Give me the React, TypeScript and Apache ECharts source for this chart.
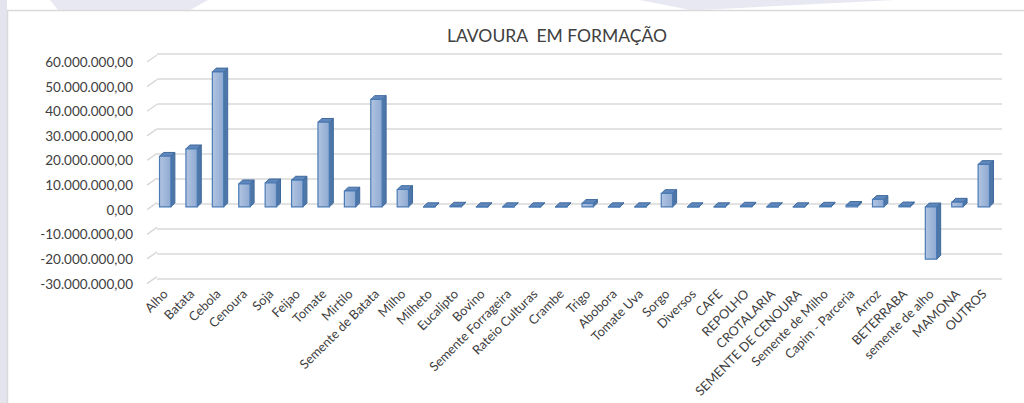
import React, { useEffect, useRef } from "react";
import * as echarts from "echarts";

const titleText = "LAVOURA  EM FORMAÇÃO";

const categories = [
  "Alho", "Batata", "Cebola", "Cenoura", "Soja", "Feijao", "Tomate", "Mirtilo",
  "Semente de Batata", "Milho", "Milheto", "Eucalipto", "Bovino", "Semente Forrageira",
  "Rateio Culturas", "Crambe", "Trigo", "Abobora", "Tomate Uva", "Sorgo", "Diversos",
  "CAFE", "REPOLHO", "CROTALARIA", "SEMENTE DE CENOURA", "Semente de Milho",
  "Capim - Parceria", "Arroz", "BETERRABA", "semente de alho", "MAMONA", "OUTROS",
];

const values = [
  20400000, 23400000, 54400000, 9300000, 9700000, 10800000, 34100000, 6400000,
  43300000, 7000000, 100000, 300000, 100000, 100000,
  100000, 100000, 1400000, 100000, 100000, 5400000, 100000,
  100000, 300000, 100000, 100000, 300000,
  600000, 3000000, 400000, -21100000, 1900000, 17100000,
];

const yMin = -30000000;
const yMax = 60000000;
const yStep = 10000000;
const yTicks = [-30000000, -20000000, -10000000, 0, 10000000, 20000000, 30000000, 40000000, 50000000, 60000000];

function fmtBR(v: number): string {
  const neg = v < 0;
  const s = Math.abs(Math.round(v)).toString().replace(/\B(?=(\d{3})+(?!\d))/g, ".");
  return (neg ? "-" : "") + s + ",00";
}

export default function App() {
  const ref = useRef<HTMLDivElement>(null);

  useEffect(() => {
    const chart = echarts.init(ref.current!, null, { renderer: "svg" });

    const frontFill = new echarts.graphic.LinearGradient(0, 0, 1, 0, [
      { offset: 0, color: "#b2c5e1" },
      { offset: 1, color: "#8ea9d1" },
    ]);

    const yAxisBase = { type: "value", min: yMin, max: yMax, interval: yStep };

    const option: any = {
      animation: false,
      backgroundColor: "#ffffff",
      title: {
        text: titleText,
        left: 552,
        top: 21,
        textAlign: "center",
        textStyle: { fontFamily: "Lato", fontSize: 17.5, fontWeight: "normal", color: "#404040" },
      },
      graphic: [
        { type: "rect", shape: { x: 0, y: 0, width: 7, height: 403 }, style: { fill: "#e4e4ef" }, silent: true },
        { type: "polygon", shape: { points: [[50, 0], [208, 0], [190, 10], [58, 10]] }, style: { fill: "#e8e8f2" }, silent: true },
        { type: "polygon", shape: { points: [[640, 0], [690, 10], [700, 10], [895, 0]] }, style: { fill: "#e8e8f2" }, silent: true },
        { type: "rect", shape: { x: 7.5, y: 10.5, width: 1030, height: 400 }, style: { fill: "none", stroke: "#d9d9d9", lineWidth: 1.5 }, silent: true },
      ],
      grid: [
        { left: 157, right: 22, top: 54, bottom: 124, outerBoundsMode: "none", containLabel: false },
        { left: 152, right: 27, top: 58, bottom: 121.7, outerBoundsMode: "none", containLabel: false },
        { left: 147, right: 32, top: 62, bottom: 119.4, outerBoundsMode: "none", containLabel: false },
      ],
      xAxis: [
        { type: "category", gridIndex: 0, data: categories, show: false },
        {
          type: "category",
          gridIndex: 1,
          data: categories,
          axisLine: { show: false },
          axisTick: { show: false },
          axisLabel: {
            interval: 0,
            rotate: 45,
            margin: 10,
            fontFamily: "Lato",
            fontSize: 12.8,
            color: "#404040",
          },
        },
        { type: "category", gridIndex: 2, data: categories, show: false },
      ],
      yAxis: [
        {
          ...yAxisBase,
          gridIndex: 0,
          axisLine: { show: false },
          axisTick: { show: false },
          axisLabel: { show: false },
          splitLine: { show: true, lineStyle: { color: "#d9d9d9", width: 1.5 } },
        },
        { ...yAxisBase, gridIndex: 1, show: false, splitLine: { show: false } },
        {
          ...yAxisBase,
          gridIndex: 2,
          axisLine: { show: false },
          axisTick: { show: false },
          splitLine: { show: false },
          axisLabel: {
            margin: 14,
            fontFamily: "Lato",
            fontSize: 13.5,
            color: "#404040",
            formatter: (v: number) => fmtBR(v),
          },
        },
      ],
      series: [
        {
          type: "custom",
          name: "wall",
          xAxisIndex: 2,
          yAxisIndex: 2,
          silent: true,
          data: yTicks.map((v) => [0, v]),
          encode: { x: 0, y: 1 },
          renderItem: (params: any, api: any) => {
            const v = api.value(1);
            const p = api.coord([0, v]);
            const half = api.size([1, 0])[0] / 2;
            const x = p[0] - half;
            return {
              type: "line",
              shape: { x1: x, y1: p[1], x2: x + 10, y2: p[1] - 7 },
              style: { stroke: "#d9d9d9", lineWidth: 1.5 },
            };
          },
        },
        {
          type: "custom",
          name: "Lavoura",
          xAxisIndex: 1,
          yAxisIndex: 1,
          data: values.map((v, i) => [i, v]),
          encode: { x: 0, y: 1 },
          renderItem: (params: any, api: any) => {
            const i = api.value(0);
            const v = api.value(1);
            const p0 = api.coord([i, 0]);
            const p1 = api.coord([i, v]);
            const bw = api.size([1, 0])[0] * 0.43;
            const xl = p0[0] - bw / 2;
            const xr = p0[0] + bw / 2;
            const yt = Math.min(p0[1], p1[1]);
            const yb = Math.max(p0[1], p1[1]);
            const dx = 4;
            const dy = -3.8;
            return {
              type: "group",
              children: [
                {
                  type: "polygon",
                  shape: { points: [[xr, yt], [xr + dx, yt + dy], [xr + dx, yb + dy], [xr, yb]] },
                  style: { fill: "#4e76a7", stroke: "#3f6a9e", lineWidth: 1 },
                },
                {
                  type: "polygon",
                  shape: { points: [[xl, yt], [xr, yt], [xr + dx, yt + dy], [xl + dx, yt + dy]] },
                  style: { fill: "#5f87bb", stroke: "#3f6a9e", lineWidth: 1 },
                },
                {
                  type: "rect",
                  shape: { x: xl, y: yt, width: bw, height: Math.max(yb - yt, 0.5) },
                  style: { fill: frontFill, stroke: "#4a7bb5", lineWidth: 1.2 },
                },
              ],
            };
          },
        },
      ],
    };

    chart.setOption(option);
    return () => chart.dispose();
  }, []);

  return (
    <div
      ref={ref}
      style={{ position: "fixed", left: 0, top: 0, width: 1024, height: 403 }}
    />
  );
}
